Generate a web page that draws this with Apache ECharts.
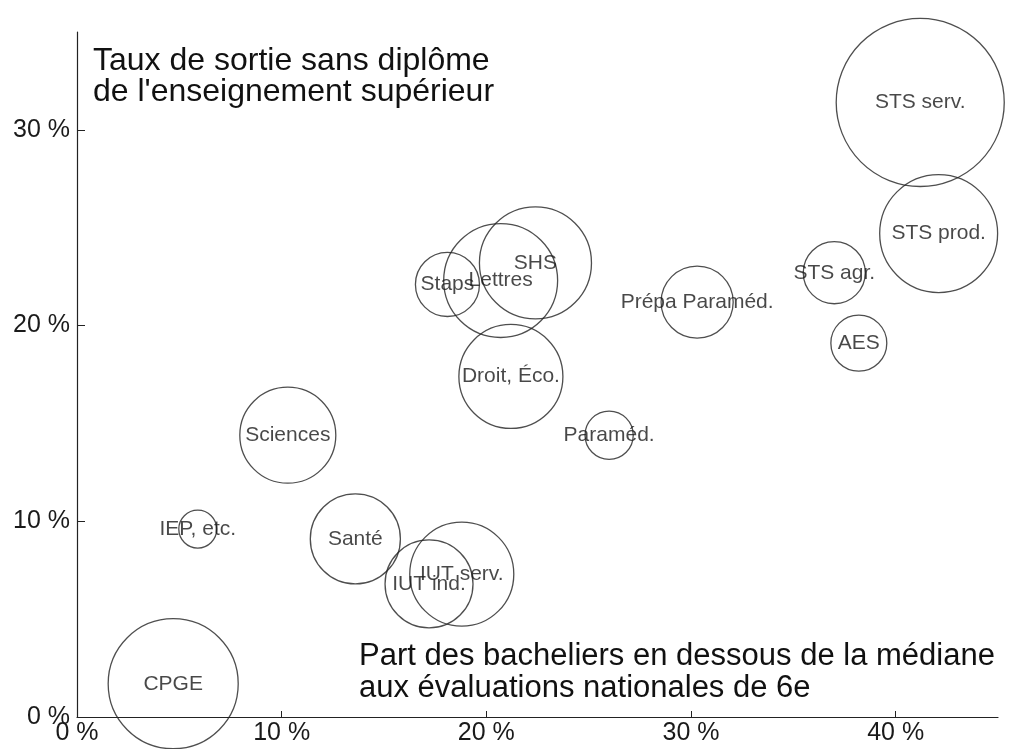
<!DOCTYPE html>
<html><head><meta charset="utf-8">
<script src="https://cdn.jsdelivr.net/npm/echarts@6/dist/echarts.min.js"></script>
<style>html,body{margin:0;padding:0;background:#fff}#c{width:1012px;height:749px}</style>
</head><body><div id="c"></div>
<script>
// Filières : part des bacheliers sous la médiane (x, %), taux de sortie sans diplôme (y, %), effectif relatif (taille)
const names    = ['CPGE','IEP, etc.','Sciences','Santé','IUT ind.','IUT serv.','Staps','Lettres','SHS','Droit, Éco.','Paraméd.','Prépa Paraméd.','STS agr.','AES','STS prod.','STS serv.'];
const xValues  = [4.7, 5.9, 10.3, 13.6, 17.2, 18.8, 18.1, 20.7, 22.4, 21.2, 26.0, 30.3, 37.0, 38.2, 42.1, 41.2];
const yValues  = [1.7, 9.6, 14.4, 9.1, 6.8, 7.3, 22.1, 22.3, 23.2, 17.4, 14.4, 21.2, 22.7, 19.1, 24.7, 31.4];
const effectifs= [40, 3.4, 21.8, 19.2, 18.3, 25.6, 9.7, 30.7, 29.7, 25.6, 5.5, 12.3, 9.1, 7.4, 32.9, 66.8];
const xTickValues = [10, 20, 30, 40];
const xLabelValues = [0, 10, 20, 30, 40];
const yTickValues = [10, 20, 30];
const yLabelValues = [0, 10, 20, 30];
const yTitle = "Taux de sortie sans diplôme\nde l'enseignement supérieur";
const xTitle = "Part des bacheliers en dessous de la médiane\naux évaluations nationales de 6e";

const SIZE_K = 10.28; // rayon = K * sqrt(effectif)
const FONT = '"Liberation Sans", Arial, sans-serif';

const data = names.map((n, i) => [xValues[i], yValues[i], effectifs[i], n]);

const chart = echarts.init(document.getElementById('c'), null, {renderer: 'canvas'});
chart.setOption({
  animation: false,
  backgroundColor: '#fff',
  grid: {left: 77, right: 14, top: 32, bottom: 32, containLabel: false},
  xAxis: {
    type: 'value', min: 0, max: 45, interval: 10,
    axisLine: {show: true, lineStyle: {color: '#222', width: 1.2}},
    axisTick: {show: true, inside: true, length: 6, customValues: xTickValues, lineStyle: {color: '#222'}},
    axisLabel: {customValues: xLabelValues, formatter: v => v + ' %', fontSize: 25, color: '#1a1a1a', fontFamily: FONT, margin: 4},
    splitLine: {show: false}
  },
  yAxis: {
    type: 'value', min: 0, max: 35, interval: 10,
    axisLine: {show: true, lineStyle: {color: '#222', width: 1.2}},
    axisTick: {show: true, inside: true, length: 8, customValues: yTickValues, lineStyle: {color: '#222'}},
    axisLabel: {customValues: yLabelValues, formatter: v => v + ' %', fontSize: 25, color: '#1a1a1a', fontFamily: FONT, margin: 7},
    splitLine: {show: false}
  },
  series: [{
    type: 'scatter',
    data: data,
    symbol: 'circle',
    symbolSize: d => 2 * SIZE_K * Math.sqrt(d[2]),
    itemStyle: {color: 'rgba(0,0,0,0)', borderColor: '#222', borderWidth: 1.3},
    label: {show: true, position: 'inside', formatter: p => p.data[3], fontSize: 21, color: '#1a1a1a', fontFamily: FONT},
    emphasis: {disabled: true},
    silent: true
  }],
  graphic: [
    {type: 'text', left: 93, top: 45, style: {text: yTitle, fontSize: 32, lineHeight: 31, fill: '#111', fontFamily: FONT}},
    {type: 'text', left: 359, top: 640, style: {text: xTitle, fontSize: 31, lineHeight: 32, fill: '#111', fontFamily: FONT}}
  ]
});
</script></body></html>
